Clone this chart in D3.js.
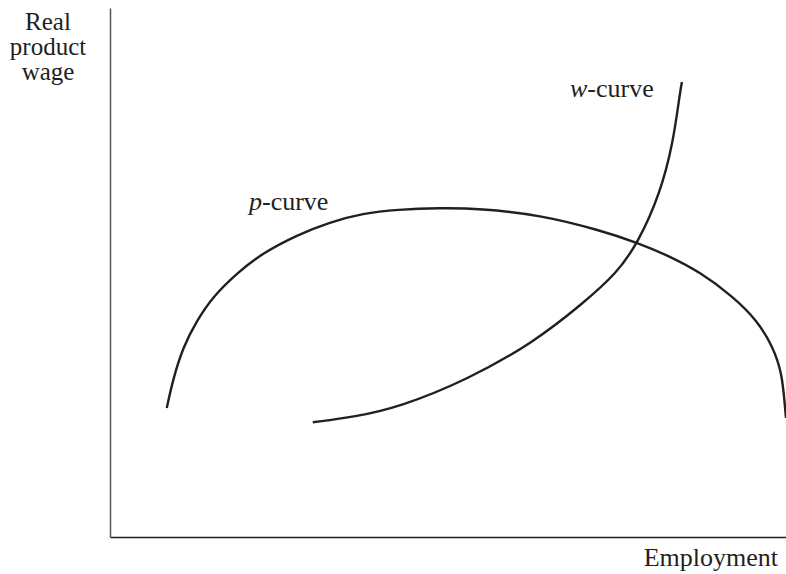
<!DOCTYPE html>
<html>
<head>
<meta charset="utf-8">
<script src="https://cdn.jsdelivr.net/npm/d3@7"></script>
<style>
  body { margin: 0; background: #fff; }
  text { font-family: "Liberation Serif", "DejaVu Serif", serif; fill: #231f20; }
</style>
</head>
<body>
<svg id="canvas" width="786" height="574"></svg>
<script>
// Curves (employment, real product wage), arbitrary units 0-10
var pCurve = [
    { e: 0.84, w: 2.44 }, { e: 0.93, w: 2.97 }, { e: 1.08, w: 3.59 },
    { e: 1.29, w: 4.10 }, { e: 1.52, w: 4.54 }, { e: 1.88, w: 4.99 },
    { e: 2.26, w: 5.37 }, { e: 2.77, w: 5.71 }, { e: 3.25, w: 5.95 },
    { e: 3.74, w: 6.12 }, { e: 4.25, w: 6.19 }, { e: 4.88, w: 6.22 },
    { e: 5.47, w: 6.21 }, { e: 6.36, w: 6.09 }, { e: 7.25, w: 5.80 },
    { e: 7.81, w: 5.56 }, { e: 8.24, w: 5.33 }, { e: 8.73, w: 5.01 },
    { e: 9.22, w: 4.54 }, { e: 9.57, w: 4.10 }, { e: 9.81, w: 3.59 },
    { e: 9.94, w: 3.10 }, { e: 9.985, w: 2.46 }, { e: 10.0, w: 2.25 }
];
var wCurve = [
    { e: 3.00, w: 2.17 }, { e: 3.62, w: 2.27 }, { e: 4.29, w: 2.46 },
    { e: 5.28, w: 2.97 }, { e: 6.26, w: 3.67 }, { e: 7.00, w: 4.42 },
    { e: 7.50, w: 4.99 }, { e: 7.81, w: 5.56 }, { e: 8.14, w: 6.50 },
    { e: 8.33, w: 7.45 }, { e: 8.43, w: 8.39 }, { e: 8.46, w: 8.60 }
];
var yLabel = ["Real", "product", "wage"];
var xLabel = "Employment";

var svg = d3.select("#canvas");
var margin = {top: 8, right: 0, bottom: 37, left: 110};
var width = +svg.attr("width") - margin.left - margin.right;
var height = +svg.attr("height") - margin.top - margin.bottom;

var g = svg.append("g")
    .attr("transform", "translate(" + margin.left + "," + margin.top + ")");

var x = d3.scaleLinear().domain([0, 10]).range([0, width]);
var y = d3.scaleLinear().domain([0, 10]).range([height, 0]);

// Axes without ticks, just the lines
g.append("g")
    .attr("transform", "translate(0," + height + ")")
    .call(d3.axisBottom(x).ticks(0).tickSize(0))
    .call(function(s){ s.select(".domain").attr("stroke", "#231f20").attr("stroke-width", 1.5); });
g.append("g")
    .call(d3.axisLeft(y).ticks(0).tickSize(0))
    .call(function(s){ s.select(".domain").attr("stroke", "#555").attr("stroke-width", 1.5); });

// basis smooths out small reading errors between the points
var line = d3.line()
    .x(function(d){ return x(d.e); })
    .y(function(d){ return y(d.w); })
    .curve(d3.curveBasis);

[pCurve, wCurve].forEach(function(c){
    g.append("path")
        .datum(c)
        .attr("fill", "none")
        .attr("stroke", "#231f20")
        .attr("stroke-width", 2.4)
        .attr("d", line);
});

// Curve labels
function curveLabel(letter, px, py) {
    var t = svg.append("text")
        .attr("x", px).attr("y", py)
        .attr("font-size", 26);
    t.append("tspan").attr("font-style", "italic").text(letter);
    t.append("tspan").text("-curve");
}
curveLabel("p", 249, 210);
curveLabel("w", 570, 97);

// Axis titles
svg.append("text")
    .attr("text-anchor", "middle")
    .attr("font-size", 25)
    .selectAll("tspan")
    .data(yLabel)
    .enter().append("tspan")
    .attr("x", 48)
    .attr("y", function(d, i){ return 30 + i * 25; })
    .text(function(d){ return d; });

svg.append("text")
    .attr("x", 778).attr("y", 566)
    .attr("text-anchor", "end")
    .attr("font-size", 26)
    .text(xLabel);
</script>
</body>
</html>
